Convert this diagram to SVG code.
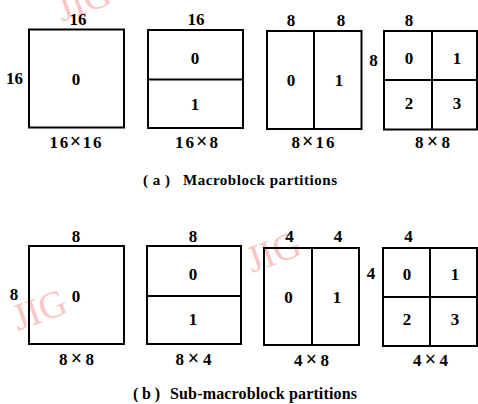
<svg xmlns="http://www.w3.org/2000/svg" width="478" height="404" viewBox="0 0 478 404">
<style>
.bg{fill:#ffffff}
.box{fill:none;stroke:#000;stroke-width:2}
.ln{stroke:#000;stroke-width:2}
text{font-family:"Liberation Serif","Times New Roman",Times,serif}
.t{font-size:17px;font-weight:bold;fill:#000;text-anchor:middle}
.x{font-size:20px;font-weight:bold}
.cap{fill:#000;font-weight:bold}
.wm{font-size:38px;fill:#f8c6c6}
</style>
<rect class="bg" x="0" y="0" width="478" height="404"/>
<g id="watermarks">
<text class="wm" transform="translate(62,22) rotate(-20)">JIG</text>
<text class="wm" transform="translate(252,273) rotate(-20)">JIG</text>
<text class="wm" transform="translate(18,331) rotate(-20)">JIG</text>
</g>
<g id="connectors"></g>
<g id="mb16x16">
<rect class="box" x="29" y="29.5" width="95" height="98"/>
<text class="t" x="78" y="25">16</text>
<text class="t" x="14.5" y="84">16</text>
<text class="t" x="76" y="85">0</text>
<text class="t" x="75.5" y="148" textLength="52" lengthAdjust="spacing">16<tspan class="x">×</tspan>16</text>
</g>
<g id="mb16x8">
<rect class="box" x="148" y="30" width="95" height="98"/>
<line class="ln" x1="148" y1="79.5" x2="243" y2="79.5"/>
<text class="t" x="196" y="25">16</text>
<text class="t" x="195" y="64">0</text>
<text class="t" x="195" y="110">1</text>
<text class="t" x="196.5" y="148" textLength="43" lengthAdjust="spacing">16<tspan class="x">×</tspan>8</text>
</g>
<g id="mb8x16">
<rect class="box" x="267" y="31" width="94.5" height="98"/>
<line class="ln" x1="314" y1="31" x2="314" y2="129"/>
<text class="t" x="291" y="26">8</text>
<text class="t" x="341" y="26">8</text>
<text class="t" x="291" y="86">0</text>
<text class="t" x="339" y="86">1</text>
<text class="t" x="313" y="148" textLength="43" lengthAdjust="spacing">8<tspan class="x">×</tspan>16</text>
</g>
<g id="mb8x8">
<rect class="box" x="384" y="31" width="93" height="98.5"/>
<line class="ln" x1="432" y1="31" x2="432" y2="129.5"/>
<line class="ln" x1="384" y1="80" x2="477" y2="80"/>
<text class="t" x="409" y="26">8</text>
<text class="t" x="373.5" y="66">8</text>
<text class="t" x="409" y="64">0</text>
<text class="t" x="457" y="64">1</text>
<text class="t" x="409" y="109">2</text>
<text class="t" x="457" y="109">3</text>
<text class="t" x="432.5" y="148" textLength="35" lengthAdjust="spacing">8<tspan class="x">×</tspan>8</text>
</g>
<g id="caption-a">
<text class="cap" font-size="15" y="185"><tspan x="143" textLength="27" lengthAdjust="spacing">(a)</tspan><tspan x="183" textLength="154" lengthAdjust="spacing">Macroblock partitions</tspan></text>
</g>
<g id="smb8x8">
<rect class="box" x="29" y="246" width="95" height="98"/>
<text class="t" x="76" y="242">8</text>
<text class="t" x="14" y="300">8</text>
<text class="t" x="76" y="301.5">0</text>
<text class="t" x="76.5" y="365" textLength="35" lengthAdjust="spacing">8<tspan class="x">×</tspan>8</text>
</g>
<g id="smb8x4">
<rect class="box" x="147" y="246" width="94" height="98"/>
<line class="ln" x1="147" y1="296" x2="241" y2="296"/>
<text class="t" x="193" y="242">8</text>
<text class="t" x="193" y="280">0</text>
<text class="t" x="193" y="325">1</text>
<text class="t" x="193.5" y="365" textLength="36" lengthAdjust="spacing">8<tspan class="x">×</tspan>4</text>
</g>
<g id="smb4x8">
<rect class="box" x="264" y="248" width="95" height="97"/>
<line class="ln" x1="312" y1="248" x2="312" y2="345"/>
<text class="t" x="289.5" y="242">4</text>
<text class="t" x="338" y="242">4</text>
<text class="t" x="288.5" y="303">0</text>
<text class="t" x="337" y="303">1</text>
<text class="t" x="311.5" y="366" textLength="35" lengthAdjust="spacing">4<tspan class="x">×</tspan>8</text>
</g>
<g id="smb4x4">
<rect class="box" x="383" y="248" width="94" height="98"/>
<line class="ln" x1="430" y1="248" x2="430" y2="346"/>
<line class="ln" x1="383" y1="297" x2="477" y2="297"/>
<text class="t" x="408.5" y="242">4</text>
<text class="t" x="371" y="279">4</text>
<text class="t" x="407" y="280">0</text>
<text class="t" x="455" y="280">1</text>
<text class="t" x="407" y="325">2</text>
<text class="t" x="455" y="325">3</text>
<text class="t" x="430.5" y="366" textLength="35" lengthAdjust="spacing">4<tspan class="x">×</tspan>4</text>
</g>
<g id="caption-b">
<text class="cap" font-size="16" y="399"><tspan x="133" textLength="27" lengthAdjust="spacing">(b)</tspan><tspan x="170" textLength="187" lengthAdjust="spacing">Sub-macroblock partitions</tspan></text>
</g>
</svg>
